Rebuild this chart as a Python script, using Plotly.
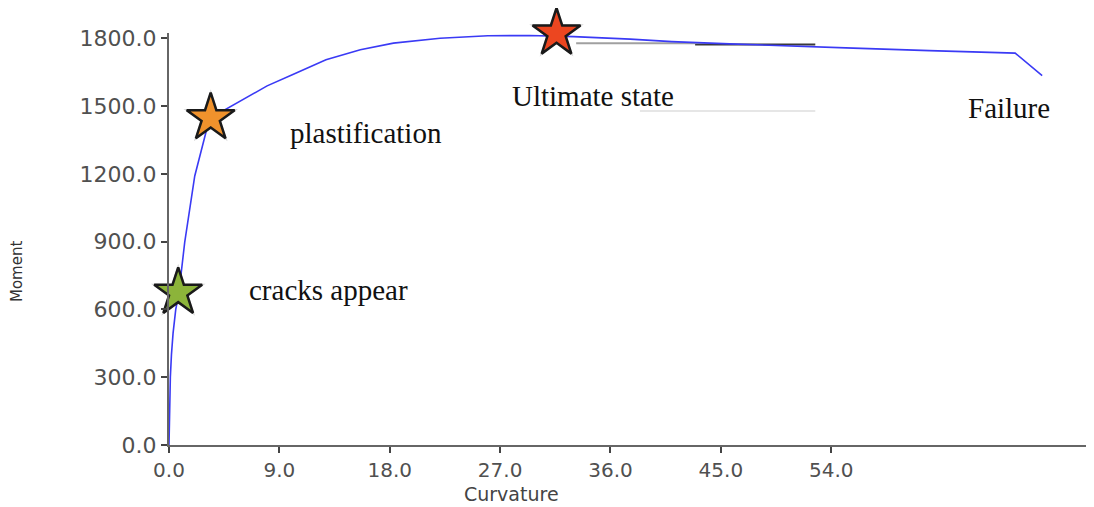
import plotly.graph_objects as go

# Moment-curvature curve
curvature = [0, 0.05, 0.11, 0.2, 0.33, 0.55, 0.8, 1.28, 2.1, 3.3, 5.8, 8.0, 10.1,
             12.8, 15.6, 18.3, 22.1, 26.0, 29.4, 33.0, 37.6, 41.0, 45.7, 50.0,
             55.8, 62.0, 69.0, 71.2]
moment = [0, 150, 300, 400, 494, 600, 670, 897, 1191, 1445, 1522, 1590, 1640,
          1706, 1750, 1779, 1801, 1812, 1813, 1808, 1797, 1786, 1776, 1767,
          1757, 1746, 1735, 1635]

# Key states (star markers)
state_names = ["cracks appear", "plastification", "Ultimate state"]
state_curv = [0.75, 3.4, 31.6]
state_moment = [675, 1448, 1823]
state_colors = ["#8cb43a", "#f0922c", "#ec4620"]

# Text labels
label_texts = ["cracks appear", "plastification", "Ultimate state", "Failure"]
label_x = [6.4, 9.7, 27.8, 65.0]
label_y = [686, 1382, 1546, 1492]

# faint guide strokes visible in the source image (start, end, level)
guide_x0 = [33.2, 42.9, 38.4]
guide_x1 = [42.9, 52.7, 52.7]
guide_y = [1779, 1773, 1479]
guide_colors = ["#a0a0a0", "#3a3a3a", "#e6e6e6"]

x_ticks = [0, 9, 18, 27, 36, 45, 54]
y_ticks = [0, 300, 600, 900, 1200, 1500, 1800]

fig = go.Figure()
for x0, x1, y, c in zip(guide_x0, guide_x1, guide_y, guide_colors):
    fig.add_shape(type="line", x0=x0, x1=x1, y0=y, y1=y, xref="x", yref="y",
                  line=dict(color=c, width=2), layer="below")

fig.add_trace(go.Scatter(x=curvature, y=moment, mode="lines",
                         line=dict(color="#3a3af5", width=1.6),
                         showlegend=False, hoverinfo="skip"))
# soft shadow behind the stars
fig.add_trace(go.Scatter(x=state_curv, y=state_moment, mode="markers",
                         marker=dict(symbol="star", size=41, color="rgba(0,0,0,0.16)",
                                     line=dict(width=0)),
                         showlegend=False, hoverinfo="skip", cliponaxis=False))
fig.add_trace(go.Scatter(x=state_curv, y=state_moment, mode="markers",
                         marker=dict(symbol="star", size=36, color=state_colors,
                                     line=dict(color="#1a1a1a", width=2.5)),
                         text=state_names, showlegend=False, cliponaxis=False))

for t, x, y in zip(label_texts, label_x, label_y):
    fig.add_annotation(x=x, y=y, text=t, showarrow=False, xanchor="left",
                       yanchor="middle",
                       font=dict(family="Liberation Serif", size=29, color="#111"))

fig.add_annotation(xref="paper", yref="paper", x=0.372, y=-0.118, text="Curvature",
                   showarrow=False, xanchor="center", yanchor="middle",
                   font=dict(family="DejaVu Sans", size=19, color="#444"))
fig.add_annotation(xref="paper", yref="paper", x=-0.165, y=0.42, text="Moment",
                   showarrow=False, textangle=-90, xanchor="center", yanchor="middle",
                   font=dict(family="DejaVu Sans", size=15, color="#333"))

# page body adds an 8px offset, so the figure is sized/margined to compensate
fig.update_layout(
    width=1086, height=499,
    margin=dict(l=161, r=4, t=25, b=62, autoexpand=False),
    paper_bgcolor="white", plot_bgcolor="white",
    showlegend=False,
)
fig.update_xaxes(
    range=[0, 75.1], tickvals=x_ticks, ticktext=[f"{v:.1f}" for v in x_ticks],
    showgrid=False, zeroline=False, showline=True, linecolor="#666", linewidth=2,
    ticks="outside", ticklen=6, tickcolor="#444", tickwidth=1.5, automargin=False,
    tickfont=dict(family="DejaVu Sans", size=20, color="#505050"),
)
fig.update_yaxes(
    range=[0, 1824], tickvals=y_ticks, ticktext=[f"{v:.1f}" for v in y_ticks],
    showgrid=False, zeroline=False, showline=True, linecolor="#666", linewidth=2,
    ticks="outside", ticklen=6, tickcolor="#444", tickwidth=1.5, automargin=False,
    tickfont=dict(family="DejaVu Sans", size=22, color="#505050"),
)

fig.write_html("out.html")
